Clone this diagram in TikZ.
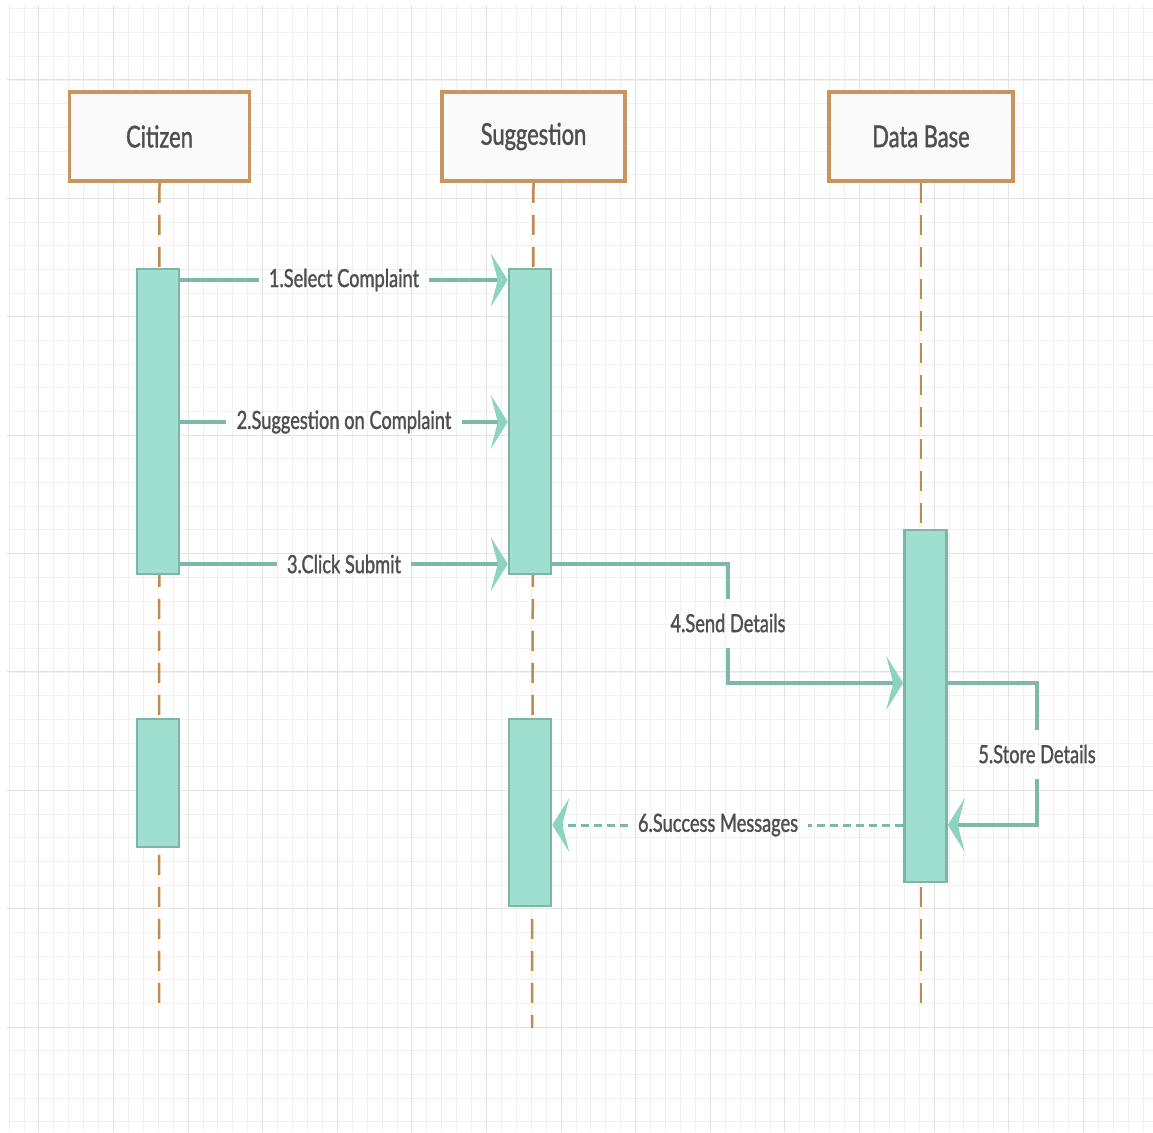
\documentclass[tikz,border=0pt]{standalone}
\usepackage{fontspec}
\setmainfont{Lato}[FakeStretch=0.73, FakeBold=1.2]
\usetikzlibrary{arrows.meta}
\definecolor{gridminor}{HTML}{F1F1F1}
\definecolor{gridmajor}{HTML}{E3E3E3}
\definecolor{boxcol}{HTML}{C9955C}
\definecolor{boxfill}{HTML}{FAFAFA}
\definecolor{lifecol}{HTML}{C08A52}
\definecolor{actfill}{HTML}{9EDFCE}
\definecolor{actcol}{HTML}{7DB5A6}
\definecolor{msgcol}{HTML}{7DB8A9}
\definecolor{tipcol}{HTML}{8CD3C0}
\definecolor{textcol}{HTML}{4E4E4E}
\tikzset{
	header/.style={draw=boxcol, fill=boxfill, line width=3.5pt,
			minimum width=180pt, minimum height=89pt,
			font=\fontsize{30}{34}\selectfont, text=textcol},
	lifeline/.style={draw=lifecol, line width=2.5pt, dash pattern=on 20pt off 12pt},
	activation/.style={draw=actcol, fill=actfill, line width=2.5pt,
			minimum width=42pt, inner sep=0pt},
	msglabel/.style={font=\fontsize{25}{29}\selectfont, text=textcol,
			inner xsep=10pt, inner ysep=15pt},
	msg/.style={draw=msgcol, line width=3.5pt},
	msgtip/.style={-{Stealth[length=17pt, width=54pt, inset=7pt, color=tipcol]}},
	reply/.style={msg, line width=3pt, dash pattern=on 8pt off 5pt}
}

\begin{document}
\begin{tikzpicture}[x=1pt, y=-1pt]

	\useasboundingbox (0,0) rectangle (1153,1132);

	% Draw the background grid
	\foreach \gx in {0,...,77}
		\draw[gridminor, line width=0.8pt] ({9+14.92*\gx},5) -- ({9+14.92*\gx},1132);
	\foreach \gy in {0,...,47}
		\draw[gridminor, line width=0.8pt] (7,{8.9+23.68*\gy}) -- (1153,{8.9+23.68*\gy});
	\foreach \gx in {2,7,...,77}
		\draw[gridmajor, line width=1pt] ({9+14.92*\gx},5) -- ({9+14.92*\gx},1132);
	\foreach \gy in {3,8,...,43}
		\draw[gridmajor, line width=1pt] (7,{8.9+23.68*\gy}) -- (1153,{8.9+23.68*\gy});

	% Draw the participants
	\node[header] (cit) at (159.5,136.5) {Citizen};
	\node[header, minimum width=183pt] (sug) at (533.5,136.5) {Suggestion};
	\node[header, minimum width=184pt] (db) at (921,136.5) {Data Base};

	% Draw the lifelines
	\coordinate (citend) at (159,1004);
	\coordinate (sugend) at (532,1028);
	\coordinate (dbend) at (921,1010);
	\draw[lifeline] (cit.south) -- (citend);
	\draw[lifeline] (sug.south) -- (sugend);
	\draw[lifeline] (db.south) -- (dbend);

	% Draw the activation bars
	\node[activation, minimum height=305pt] (c1) at (158,421.5) {};
	\node[activation, minimum height=128pt] (c2) at (158,783) {};
	\node[activation, minimum height=305pt] (s1) at (530,421.5) {};
	\node[activation, minimum height=187pt] (s2) at (530,812.5) {};
	\node[activation, minimum height=352pt] (d1) at (925.5,706) {};

	% Draw the messages
	\node[msglabel] (l1) at (344,280) {1.Select Complaint};
	\node[msglabel] (l2) at (344,422) {2.Suggestion on Complaint};
	\node[msglabel] (l3) at (344,564) {3.Click Submit};
	\node[msglabel] (l4) at (728,623) {4.Send Details};
	\node[msglabel] (l5) at (1037,754) {5.Store Details};
	\node[msglabel] (l6) at (718,825) {6.Success Messages};
	\coordinate (m4) at (0,683);
	\coordinate (m5) at (0,825);

	\draw[msg] (c1.east |- l1) -- (l1.west);
	\draw[msg, msgtip] (l1.east) -- (s1.west |- l1);
	\draw[msg] (c1.east |- l2) -- (l2.west);
	\draw[msg, msgtip] (l2.east) -- (s1.west |- l2);
	\draw[msg] (c1.east |- l3) -- (l3.west);
	\draw[msg, msgtip] (l3.east) -- (s1.west |- l3);

	\draw[msg] (s1.east |- l3) -| (l4.north);
	\draw[msg, msgtip] (l4.south) |- (d1.west |- m4);

	\draw[msg] (d1.east |- m4) -| (l5.north);
	\draw[msg, msgtip] (l5.south) |- (d1.east |- m5);

	% Draw the reply
	\draw[reply] (d1.west |- l6) -- (l6.east);
	\draw[reply, msgtip] (l6.west) -- (s2.east |- l6);
\end{tikzpicture}
\end{document}
